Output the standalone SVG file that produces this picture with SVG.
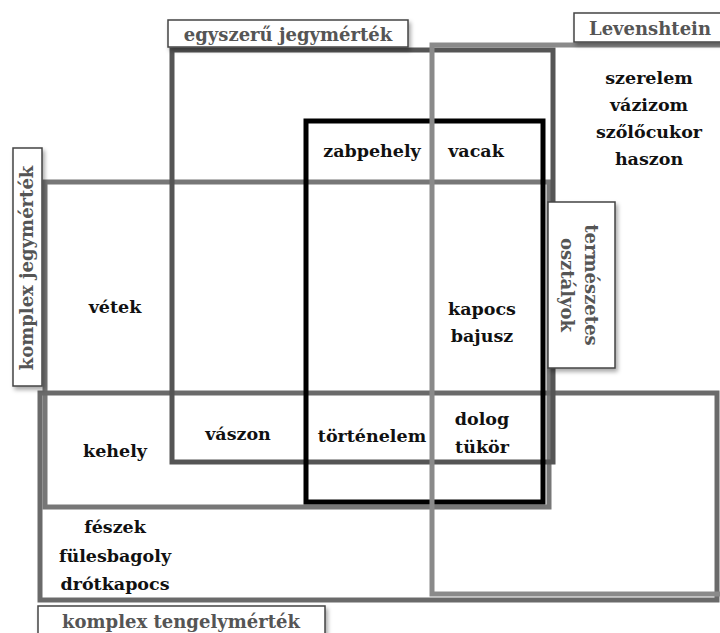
<svg xmlns="http://www.w3.org/2000/svg" width="720" height="633" viewBox="0 0 720 633">
<defs>
<filter id="sh" x="-20%" y="-20%" width="150%" height="160%">
<feDropShadow dx="2" dy="3" stdDeviation="2" flood-color="#000" flood-opacity="0.35"/>
</filter>
<style>
.r{fill:none;stroke-width:5}
.lb{fill:#fff;stroke:#444;stroke-width:1.5}
.lt{font-family:"DejaVu Serif",serif;font-weight:bold;font-size:18px;fill:#555;text-anchor:middle}
.t{font-family:"DejaVu Serif",serif;font-weight:bold;font-size:17.5px;fill:#111;text-anchor:middle}
</style>
</defs>
<rect width="720" height="633" fill="#fff"/>
<g id="connectors"/>
<g id="komplex-jegymertek">
<rect class="r" x="45" y="182" width="504" height="325" stroke="#777"/>
</g>
<g id="komplex-tengelymertek">
<rect class="r" x="40" y="393" width="677" height="207" stroke="#6a6a6a"/>
</g>
<g id="egyszeru-jegymertek">
<rect class="r" x="172" y="50" width="381" height="412" stroke="#555"/>
</g>
<g id="termeszetes-osztalyok">
<rect class="r" x="306" y="121" width="237" height="381" stroke="#000" stroke-width="6"/>
</g>
<g id="levenshtein">
<rect class="r" x="432" y="45" width="300" height="549" stroke="#8a8a8a"/>
</g>
<g id="label-egyszeru">
<rect class="lb" x="168" y="20" width="240" height="27" filter="url(#sh)"/>
<text class="lt" x="288" y="41">egyszerű jegymérték</text>
</g>
<g id="label-levenshtein">
<rect class="lb" x="574" y="13" width="160" height="29" filter="url(#sh)"/>
<text class="lt" x="650" y="35">Levenshtein</text>
</g>
<g id="label-komplex-jegymertek">
<rect class="lb" x="13" y="148" width="29" height="238" filter="url(#sh)"/>
<text class="lt" transform="translate(33,268) rotate(-90)">komplex jegymérték</text>
</g>
<g id="label-termeszetes">
<rect class="lb" x="548" y="202" width="67" height="166" filter="url(#sh)"/>
<text class="lt" transform="translate(585,285) rotate(90)">természetes</text>
<text class="lt" transform="translate(561,285) rotate(90)">osztályok</text>
</g>
<g id="label-komplex-tengelymertek">
<rect class="lb" x="38" y="606" width="287" height="34" filter="url(#sh)"/>
<text class="lt" x="181" y="628">komplex tengelymérték</text>
</g>
<g id="words">
<text class="t" x="649" y="84">szerelem</text>
<text class="t" x="649" y="111">vázizom</text>
<text class="t" x="649" y="138">szőlőcukor</text>
<text class="t" x="649" y="165">haszon</text>
<text class="t" x="372" y="157">zabpehely</text>
<text class="t" x="476" y="157">vacak</text>
<text class="t" x="115" y="313">vétek</text>
<text class="t" x="482" y="315">kapocs</text>
<text class="t" x="482" y="342">bajusz</text>
<text class="t" x="115" y="457">kehely</text>
<text class="t" x="238" y="440">vászon</text>
<text class="t" x="372" y="442">történelem</text>
<text class="t" x="482" y="425">dolog</text>
<text class="t" x="482" y="453">tükör</text>
<text class="t" x="115" y="533">fészek</text>
<text class="t" x="115" y="562">fülesbagoly</text>
<text class="t" x="115" y="590">drótkapocs</text>
</g>
</svg>
